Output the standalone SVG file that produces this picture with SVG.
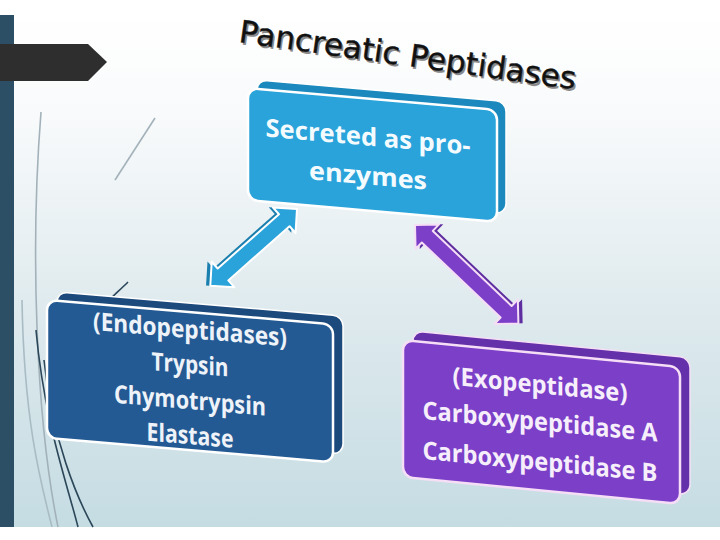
<svg xmlns="http://www.w3.org/2000/svg" width="720" height="540" viewBox="0 0 720 540">
<defs>
<linearGradient id="bg" x1="0" y1="0" x2="0" y2="1">
<stop offset="0" stop-color="#ffffff"/>
<stop offset="0.2" stop-color="#f8fafb"/>
<stop offset="0.6" stop-color="#dde9ed"/>
<stop offset="1" stop-color="#c5dce3"/>
</linearGradient>
</defs>
<style>
.lbl{font-family:"Open Sans","Liberation Sans",sans-serif;font-weight:bold;font-size:25px;text-anchor:middle}
.deco{fill:none;stroke-width:1.6}
</style>
<rect x="0" y="0" width="720" height="540" fill="#ffffff"/>
<rect x="0" y="15" width="720" height="512" fill="url(#bg)"/>
<rect x="0" y="15" width="14" height="512" fill="#2c4f66"/>
<polygon points="0,44 88,44 107,62 88,81 0,81" fill="#2e2e2e"/>
<g id="decor">
<path class="deco" d="M41,112 C30,250 36,420 58,527" stroke="#a3b2ba" stroke-width="1"/>
<path class="deco" d="M22,300 C24,420 40,480 52,527" stroke="#a9bcc4"/>
<path class="deco" d="M36,330 C44,420 66,480 78,527" stroke="#2b4759"/>
<path class="deco" d="M44,360 C52,440 78,500 93,527" stroke="#2b4759"/>
<path class="deco" d="M155,118 L115,180" stroke="#a3b2ba" stroke-width="1"/>
<path class="deco" d="M128,282 C118,292 108,300 100,310" stroke="#2b4759" stroke-width="1.2"/>
</g>
<g id="title" font-family="'DejaVu Sans',sans-serif" font-size="31">
<text x="238" y="42" transform="rotate(8 238 42)" textLength="340" lengthAdjust="spacingAndGlyphs" fill="#8a8a8a" dx="2" dy="2">Pancreatic Peptidases</text>
<text x="238" y="42" transform="rotate(8 238 42)" textLength="340" lengthAdjust="spacingAndGlyphs" fill="#111111" stroke="#111111" stroke-width="0.4">Pancreatic Peptidases</text>
</g>
<g id="connectors">
<g id="arrow-blue" transform="translate(297,209) rotate(138.5)">
<g transform="translate(3,3)" fill="#1a7fae"><polygon points="0,0 17,-17 17,-8 98.8,-8 98.8,-17 115.8,0 98.8,17 98.8,8 17,8 17,17"/></g>
<polygon points="0,0 17,-17 17,-8 98.8,-8 98.8,-17 115.8,0 98.8,17 98.8,8 17,8 17,17" fill="#29a3da" stroke="#ffffff" stroke-width="2" stroke-linejoin="round"/>
</g>
<g id="arrow-purple" transform="translate(415,225) rotate(43.6)">
<g transform="translate(3,-3)" fill="#5e2ea0"><polygon points="0,0 17,-17 17,-8 125.8,-8 125.8,-17 142.8,0 125.8,17 125.8,8 17,8 17,17"/></g>
<polygon points="0,0 17,-17 17,-8 125.8,-8 125.8,-17 142.8,0 125.8,17 125.8,8 17,8 17,17" fill="#7b3fc8" stroke="#f6dff6" stroke-width="2" stroke-linejoin="round"/>
</g>
</g>
<g id="node-secreted" transform="matrix(1,0.088,0,1,248,88)">
<rect x="9" y="-9" width="249" height="112" rx="10" fill="#1b89bd" stroke="#ffffff" stroke-width="1.5"/>
<rect x="0" y="0" width="249" height="112" rx="10" fill="#29a3da" stroke="#ffffff" stroke-width="2.5"/>
<text class="lbl" x="120" y="47" font-size="29" textLength="205" lengthAdjust="spacingAndGlyphs" fill="#f4fbff">Secreted as pro-</text>
<text class="lbl" x="120" y="86" font-size="29" textLength="118" lengthAdjust="spacingAndGlyphs" fill="#f4fbff">enzymes</text>
</g>
<g id="node-endo" transform="matrix(1,0.085,0,1,47,300)">
<rect x="10" y="-9" width="286" height="138" rx="10" fill="#1d4a7c" stroke="#ffffff" stroke-width="1.5"/>
<rect x="0" y="0" width="286" height="138" rx="10" fill="#245a93" stroke="#ffffff" stroke-width="2.5"/>
<text class="lbl" x="143" y="26" textLength="194" lengthAdjust="spacingAndGlyphs" fill="#eef3f9">(Endopeptidases)</text>
<text class="lbl" x="143" y="61" textLength="77" lengthAdjust="spacingAndGlyphs" fill="#eef3f9">Trypsin</text>
<text class="lbl" x="143" y="97" textLength="152" lengthAdjust="spacingAndGlyphs" fill="#eef3f9">Chymotrypsin</text>
<text class="lbl" x="143" y="132" textLength="87" lengthAdjust="spacingAndGlyphs" fill="#eef3f9">Elastase</text>
</g>
<g id="node-exo" transform="matrix(1,0.097,0,1,403,340)">
<rect x="10" y="-10" width="277" height="137" rx="10" fill="#6431aa" stroke="#f6dff6" stroke-width="1.5"/>
<rect x="0" y="0" width="277" height="137" rx="10" fill="#7b3fc8" stroke="#f6dff6" stroke-width="2.5"/>
<text class="lbl" x="137" y="40" textLength="175" lengthAdjust="spacingAndGlyphs" fill="#f6effb">(Exopeptidase)</text>
<text class="lbl" x="137" y="77" textLength="235" lengthAdjust="spacingAndGlyphs" fill="#f6effb">Carboxypeptidase A</text>
<text class="lbl" x="137" y="117" textLength="235" lengthAdjust="spacingAndGlyphs" fill="#f6effb">Carboxypeptidase B</text>
</g>
</svg>
